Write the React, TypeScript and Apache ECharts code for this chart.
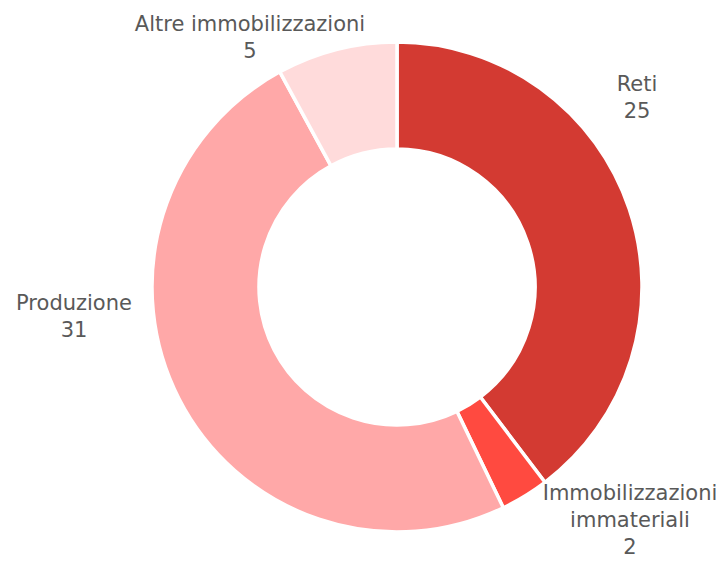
import React, { useEffect, useRef } from "react";
import * as echarts from "echarts";

const categories = ["Reti", "Immobilizzazioni\nimmateriali", "Produzione", "Altre immobilizzazioni"];
const values = [25, 2, 31, 5];
const colors = ["#D33A32", "#FF4A40", "#FFA8A8", "#FFDBDB"];

// label anchor points (pixels)
const labelPos: [number, number][] = [
  [637, 97],
  [630, 520],
  [74, 316],
  [250, 37],
];

export default function App() {
  const ref = useRef<HTMLDivElement>(null);
  useEffect(() => {
    document.body.style.margin = "0";
    const chart = echarts.init(ref.current!, null, { renderer: "svg" });
    chart.setOption({
      animation: false,
      backgroundColor: "#ffffff",
      series: [
        {
          type: "pie",
          center: [397, 287],
          radius: [138, 245],
          startAngle: 90,
          clockwise: true,
          silent: true,
          itemStyle: { borderColor: "#ffffff", borderWidth: 3.5 },
          label: {
            show: true,
            position: "outside",
            formatter: "{b}\n{c}",
            color: "#595959",
            fontSize: 21,
            lineHeight: 27,
            fontFamily: "DejaVu Sans",
            align: "center",
            overflow: "none",
          },
          labelLine: { show: false },
          labelLayout: (p: any) => ({
            x: labelPos[p.dataIndex][0],
            y: labelPos[p.dataIndex][1],
            align: "center",
            verticalAlign: "middle",
          }),
          data: categories.map((c, i) => ({
            name: c,
            value: values[i],
            itemStyle: { color: colors[i] },
          })),
        },
      ],
    });
    return () => chart.dispose();
  }, []);
  return <div ref={ref} style={{ width: 724, height: 561 }} />;
}
